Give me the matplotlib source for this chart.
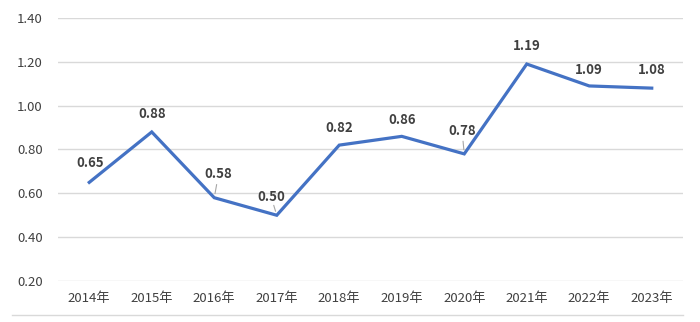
import matplotlib
matplotlib.use("Agg")
import matplotlib.pyplot as plt
from matplotlib.lines import Line2D

# Datos
anios = ["2014年", "2015年", "2016年", "2017年", "2018年",
         "2019年", "2020年", "2021年", "2022年", "2023年"]
valores = [0.65, 0.88, 0.58, 0.50, 0.82, 0.86, 0.78, 1.19, 1.09, 1.08]
marcas_y = [0.20, 0.40, 0.60, 0.80, 1.00, 1.20, 1.40]

# Desplazamiento de cada etiqueta (pixeles) y si lleva linea guia
desplaz = [(1, 19), (0, 18), (4, 24), (-5, 18), (0, 17),
           (0, 16), (-2, 23), (0, 18), (0, 16), (0, 18)]
guia = [False, False, True, True, False, False, True, False, False, False]

plt.rcParams['font.family'] = ['Noto Sans CJK SC', 'DejaVu Sans']

fig = plt.figure(figsize=(7, 3.22), dpi=100)
ax = fig.add_axes([58 / 700, 41 / 322, 625 / 700, 263 / 322])

x = range(len(anios))
ax.plot(x, valores, color="#4472C4", lw=2.3, solid_joinstyle="miter")

for i, v in enumerate(valores):
    dx, dy = desplaz[i]
    ax.annotate(f"{v:.2f}", (i, v), xytext=(dx, dy), textcoords="offset pixels",
                ha="center", va="center", fontsize=9.5, fontweight="bold",
                color="#404040")
    if guia[i]:
        ax.annotate("", (i, v), xytext=(dx * 0.6, dy * 0.55), textcoords="offset pixels",
                    xycoords="data",
                    arrowprops=dict(arrowstyle="-", color="#a6a6a6", lw=0.8,
                                    shrinkA=0, shrinkB=3))

ax.set_xlim(-0.5, len(anios) - 0.5)
ax.set_ylim(0.2, 1.4)
ax.set_yticks(marcas_y)
ax.set_yticklabels([f"{m:.2f}" for m in marcas_y])
ax.set_xticks(list(x))
ax.set_xticklabels(anios)
ax.grid(axis="y", color="#d9d9d9", lw=1)
ax.set_axisbelow(True)
for s in ax.spines.values():
    s.set_visible(False)
ax.tick_params(axis="both", length=0, labelsize=9.5, colors="#404040")
ax.tick_params(axis="y", pad=11)
ax.tick_params(axis="x", pad=8)

# Linea inferior del marco
fig.add_artist(Line2D([12 / 700, 683 / 700], [7 / 322, 7 / 322],
                      transform=fig.transFigure, color="#d9d9d9", lw=1))

fig.savefig("out.png", dpi=100)
